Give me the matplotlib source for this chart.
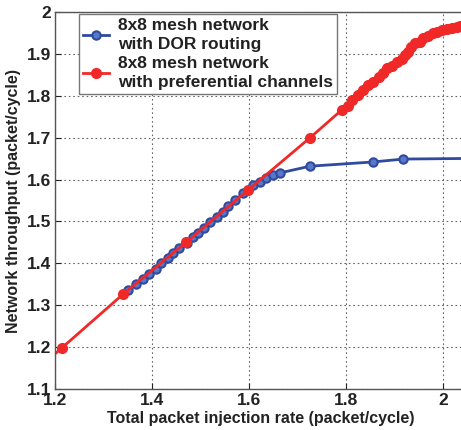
import numpy as np
import matplotlib
matplotlib.use('Agg')
import matplotlib.pyplot as plt

plt.rcParams['font.family'] = ['Liberation Sans', 'DejaVu Sans']
plt.rcParams['font.weight'] = 'bold'

# 8x8 mesh, DOR routing
dor_x = [1.351, 1.367, 1.382, 1.394, 1.408, 1.419, 1.432, 1.444, 1.456, 1.472,
         1.484, 1.495, 1.507, 1.520, 1.533, 1.546, 1.557, 1.571, 1.588, 1.609,
         1.623, 1.636, 1.650, 1.664, 1.726, 1.855, 1.918, 2.10]
dor_y = [1.337, 1.351, 1.363, 1.375, 1.386, 1.400, 1.412, 1.424, 1.436, 1.448,
         1.462, 1.473, 1.485, 1.498, 1.510, 1.523, 1.537, 1.551, 1.567, 1.587,
         1.595, 1.603, 1.611, 1.616, 1.632, 1.642, 1.649, 1.651]

# 8x8 mesh, preferential channels
pref_x = [1.09, 1.214, 1.340, 1.470, 1.598, 1.726,
          1.791, 1.805, 1.812, 1.825, 1.836, 1.846, 1.856, 1.867, 1.877, 1.884,
          1.894, 1.905, 1.915, 1.922, 1.928, 1.935, 1.942, 1.953, 1.959, 1.970,
          1.980, 1.987, 1.997, 2.008, 2.018, 2.028, 2.035]
pref_y = [1.072, 1.198, 1.326, 1.450, 1.575, 1.700,
          1.766, 1.776, 1.790, 1.802, 1.814, 1.826, 1.834, 1.846, 1.855, 1.866,
          1.870, 1.881, 1.889, 1.897, 1.905, 1.917, 1.925, 1.929, 1.937, 1.943,
          1.949, 1.953, 1.957, 1.959, 1.962, 1.965, 1.967]

fig = plt.figure(figsize=(4.61, 4.30), dpi=100)
ax = fig.add_axes([0.1193, 0.0953, 0.8943, 0.8767])

ax.plot(dor_x, dor_y, color='#2f4a9e', lw=2, marker='o', ms=6,
        mfc='#5a78c8', mec='#2f4a9e', mew=1.5,
        label='8x8 mesh network\nwith DOR routing')
ax.plot(pref_x, pref_y, color='#f02828', lw=2, marker='o', ms=7,
        mfc='#f02828', mec='#f02828',
        label='8x8 mesh network\nwith preferential channels')

ax.set_xlim(1.2, 2.05)
ax.set_ylim(1.1, 2.0)
ax.set_xticks([1.2, 1.4, 1.6, 1.8, 2.0])
ax.set_xticklabels(['1.2', '1.4', '1.6', '1.8', '2'])
ax.set_yticks([1.1, 1.2, 1.3, 1.4, 1.5, 1.6, 1.7, 1.8, 1.9, 2.0])
ax.set_yticklabels(['1.1', '1.2', '1.3', '1.4', '1.5', '1.6', '1.7', '1.8', '1.9', '2'])
ax.tick_params(direction='in', length=4, labelsize=12.5, colors='#222222', pad=3)
ax.grid(True, linestyle=(0, (1.5, 2.5)), color='#666666', lw=0.8)

for s in ax.spines.values():
    s.set_color('#555555')
    s.set_linewidth(1)

ax.set_xlabel('Total packet injection rate (packet/cycle)', fontsize=11.5,
              fontweight='bold', color='#222222', labelpad=2)
ax.set_ylabel('Network throughput (packet/cycle)', fontsize=11.5,
              fontweight='bold', color='#222222', labelpad=4)

leg = ax.legend(loc='upper left', bbox_to_anchor=(0.058, 0.995), borderaxespad=0,
                fontsize=12.5, fancybox=False, framealpha=1, edgecolor='#777777',
                handlelength=1.5, handletextpad=0.5, borderpad=0.25,
                labelspacing=0.2)
leg.get_frame().set_linewidth(1)
for t in leg.get_texts():
    t.set_color('#222222')
    t.set_linespacing(1.35)

fig.savefig('out.png', dpi=100)
